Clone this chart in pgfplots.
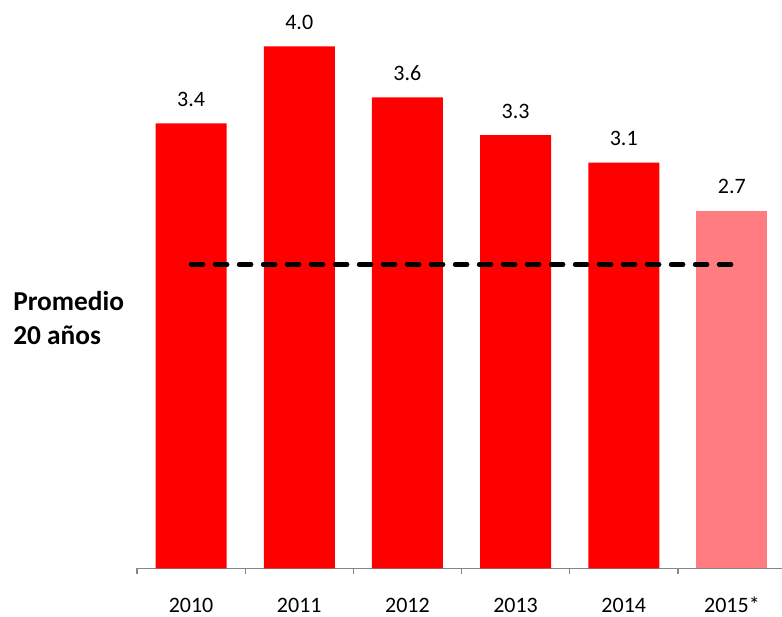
\documentclass[border=0pt]{standalone}
\usepackage{fontspec}
\setmainfont{Carlito}
\usepackage{pgfplots}
\pgfplotsset{compat=1.18}
\definecolor{barred}{HTML}{FF0000}
\definecolor{barpink}{HTML}{FF7C80}
\definecolor{axgray}{HTML}{868686}
\begin{document}
\begin{tikzpicture}
\useasboundingbox (0,0) rectangle (586.5pt,462.75pt);
\begin{axis}[
  at={(102.75pt,36.375pt)}, anchor=south west,
  scale only axis, width=486.75pt, height=391.5pt,
  xmin=-0.5, xmax=5.5, ymin=0, ymax=4,
  clip=false,
  axis x line=bottom, axis y line=none,
  axis line style={axgray, line width=1pt, -},
  x axis line style={-},
  xtick={0,1,2,3,4,5},
  xticklabels={2010,2011,2012,2013,2014,2015*},
  major tick length=0pt,
  minor xtick={-0.5,0.5,1.5,2.5,3.5,4.5,5.5},
  minor tick length=4pt,
  tick align=outside,
  tick style={axgray, line width=1pt},
  xticklabel style={font=\fontsize{16.5}{18}\selectfont, anchor=base, yshift=-33pt, inner sep=0pt},
  /pgf/number format/assume math mode=true,
  ybar, bar shift=0pt, bar width=53.25pt,
  point meta=explicit symbolic,
  nodes near coords={\pgfplotspointmeta},
  every node near coord/.append style={font=\fontsize{16.5}{18}\selectfont, anchor=base, inner sep=0pt, yshift=12.75pt, text=black},
]
\addplot[fill=barred, draw=none] coordinates {(0,3.41) [3.4] (1,4.0) [4.0] (2,3.61) [3.6] (3,3.32) [3.3] (4,3.11) [3.1]};
\addplot[fill=barpink, draw=none] coordinates {(5,2.74) [2.7]};
\addplot[sharp plot, no marks, nodes near coords={}, black, line width=3.4pt, line cap=round, dash pattern=on 9pt off 9pt] coordinates {(0,2.33) (5,2.33)};
\end{axis}
\node[anchor=base west, inner sep=0pt, font=\bfseries\fontsize{20.5}{22}\selectfont] at (9.75pt,229.7pt) {Promedio};
\node[anchor=base west, inner sep=0pt, font=\bfseries\fontsize{20.5}{22}\selectfont] at (9.75pt,204pt) {20 años};
\end{tikzpicture}
\end{document}
